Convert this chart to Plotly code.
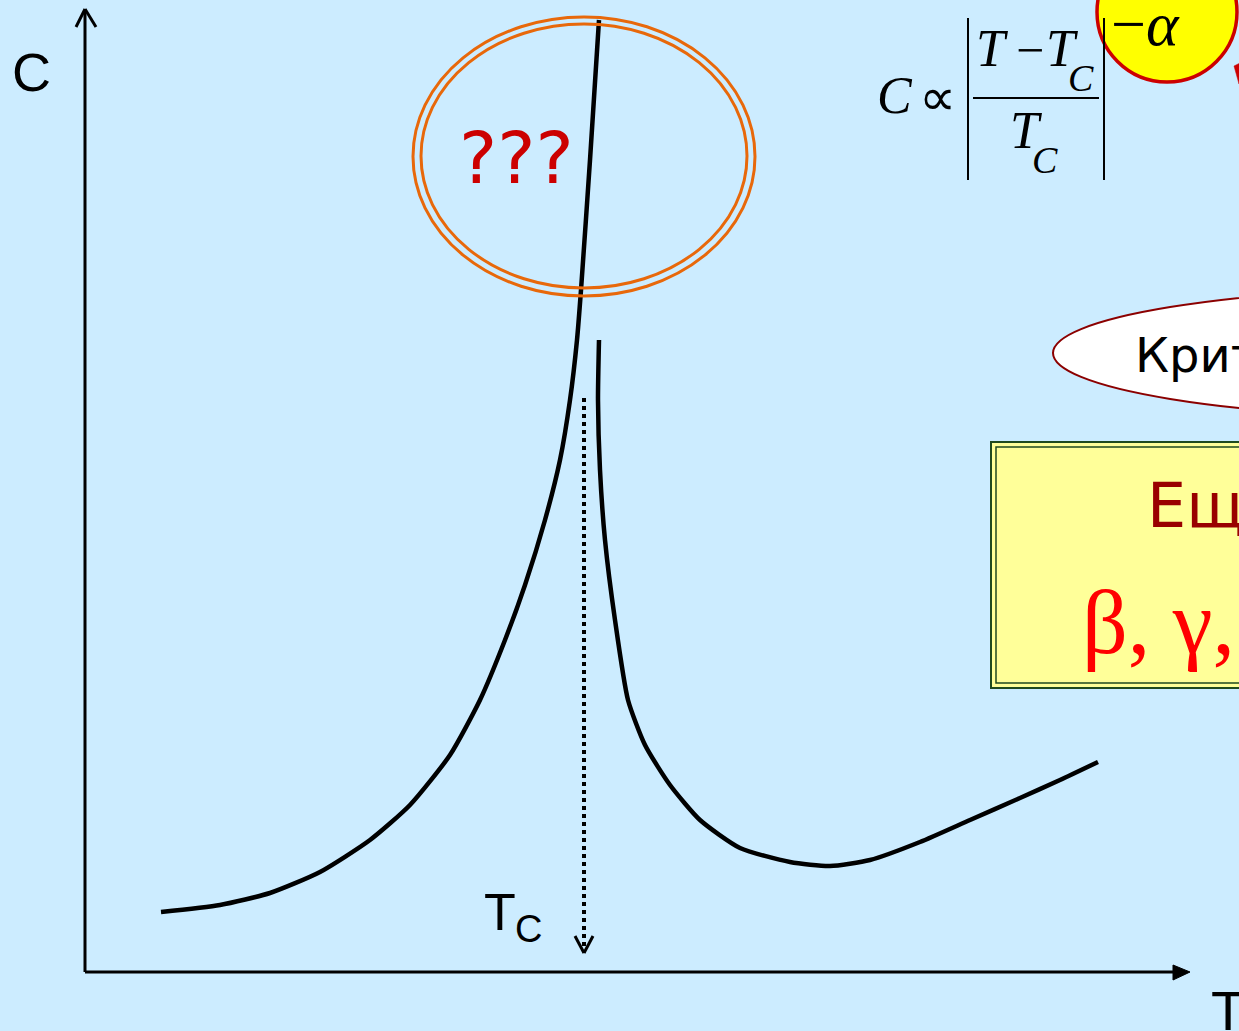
import plotly.graph_objects as go

# ---- data (T, C in arbitrary units; origin at axes crossing) ----
T_below = [76, 135, 185, 235, 285, 325, 365, 395, 420, 440, 460, 475, 485, 492, 496, 505, 514]
C_below = [60, 67, 79, 100, 132, 167, 217, 272, 332, 387, 452, 512, 572, 632, 682, 812, 952]
T_above = [514, 513, 515, 520, 530, 543, 560, 585, 615, 655, 705, 745, 785, 835, 885, 935, 975, 1013]
C_above = [632, 572, 502, 432, 352, 272, 227, 187, 152, 124, 110, 106, 112, 130, 152, 174, 192, 210]
T_c = 499

W, H = 1239, 1031
OX, OY = 85, 972  # pixel of origin


def P(px, py):
    return px - OX, OY - py


BG = "#CCECFF"
fig = go.Figure()
for xs, ys in ((T_below, C_below), (T_above, C_above)):
    fig.add_trace(go.Scatter(x=xs, y=ys, mode="lines",
                             line=dict(color="black", width=4.5, shape="spline", smoothing=0.6),
                             hoverinfo="skip", showlegend=False))

shapes = []


def line(p1, p2, color="black", width=3, dash=None):
    x0, y0 = P(*p1)
    x1, y1 = P(*p2)
    d = dict(type="line", x0=x0, y0=y0, x1=x1, y1=y1, xref="x", yref="y",
             line=dict(color=color, width=width))
    if dash:
        d["line"]["dash"] = dash
    shapes.append(d)


def ellipse(x0, y0, x1, y1, color, width, fill="rgba(0,0,0,0)", layer="above"):
    a, b = P(x0, y0)
    c, d = P(x1, y1)
    shapes.append(dict(type="circle", x0=a, y0=d, x1=c, y1=b, xref="x", yref="y",
                       line=dict(color=color, width=width), fillcolor=fill, layer=layer))


def rect(x0, y0, x1, y1, color, width, fill="rgba(0,0,0,0)"):
    a, b = P(x0, y0)
    c, d = P(x1, y1)
    shapes.append(dict(type="rect", x0=a, y0=d, x1=c, y1=b, xref="x", yref="y",
                       line=dict(color=color, width=width), fillcolor=fill, layer="below"))


# axes
line((OX, OY), (OX, 10), width=3)
line((OX, 9), (76, 27), width=3)
line((OX, 9), (96, 27), width=3)
line((OX, OY), (1178, OY), width=3)
xa, ya = P(1173, 965)
xb, yb = P(1190, 972)
xc, yc = P(1173, 980)
shapes.append(dict(type="path", path=f"M {xa} {ya} L {xb} {yb} L {xc} {yc} Z",
                   xref="x", yref="y", fillcolor="black", line=dict(color="black", width=1)))

# Tc dotted arrow
line((T_c + OX, 398), (T_c + OX, 950), width=4, dash="dot")
line((T_c + OX - 9, 936), (T_c + OX, 953), width=3)
line((T_c + OX + 9, 936), (T_c + OX, 953), width=3)

# orange double ellipse
ellipse(413, 17, 755, 296, "#E8680A", 3)
ellipse(421, 24, 747, 288, "#E8680A", 3)

# white ellipse
ellipse(1053, 288, 1853, 418, "#8B0000", 2, fill="white", layer="below")

# yellow box double border
rect(991, 442, 1400, 688, "#1F4A1F", 2, fill="#FFFF99")
rect(996, 447, 1400, 683, "#1F4A1F", 1.5)

# yellow circle
ellipse(1097, -58, 1237, 82, "#CC0000", 3.5, fill="#FFFF00", layer="below")
# small red mark at right edge
xa, ya = P(1234, 66)
xb, yb = P(1242, 62)
xc, yc = P(1239, 84)
shapes.append(dict(type="path", path=f"M {xa} {ya} L {xb} {yb} L {xc} {yc} Z",
                   xref="x", yref="y", fillcolor="#CC0000", line=dict(color="#CC0000", width=0.5)))

# formula bars and fraction line
line((968, 18), (968, 180), width=2)
line((1104, 18), (1104, 180), width=2)
line((973, 98), (1099, 98), width=2)

annotations = []


def text(px, py, s, size, color="black", family="Liberation Sans", xanchor="center", italic=False):
    x, y = P(px, py)
    if italic:
        s = f"<i>{s}</i>"
    annotations.append(dict(x=x, y=y, xref="x", yref="y", text=s, showarrow=False,
                            xanchor=xanchor, yanchor="middle",
                            font=dict(size=size, color=color, family=family)))


text(31, 72, "C", 54)
text(500, 912, "T", 52)
text(528, 929, "C", 38)
text(1228, 1010, "T", 56)
text(516, 158, "???", 72, color="#CC0000", family="DejaVu Sans")

serif = "Liberation Serif"
text(895, 95, "C", 52, family=serif, italic=True)
text(937, 97, "∝", 52, family=serif)
text(992, 48, "T", 52, family=serif, italic=True)
text(1030, 50, "−", 50, family=serif)
text(1062, 48, "T", 52, family=serif, italic=True)
text(1081, 78, "C", 38, family=serif, italic=True)
text(1026, 130, "T", 52, family=serif, italic=True)
text(1045, 160, "C", 38, family=serif, italic=True)
text(1145, 24, "−<i>α</i>", 62, family=serif)

text(1133, 355, "Критические", 48, family="DejaVu Sans", xanchor="left")
text(1145, 505, "Еще критические индексы:", 62, color="#990000", family="DejaVu Sans", xanchor="left")
text(1080, 622, "β, γ, δ", 90, color="#FF0000", family=serif, xanchor="left")

fig.update_layout(
    width=W, height=H, margin=dict(l=0, r=0, t=0, b=0),
    paper_bgcolor=BG, plot_bgcolor=BG,
    xaxis=dict(range=[-OX, W - OX], visible=False, fixedrange=True),
    yaxis=dict(range=[OY - H, OY], visible=False, fixedrange=True),
    shapes=shapes, annotations=annotations, showlegend=False,
)
fig.write_html("out.html", config={"displayModeBar": False},
               post_script="document.body.style.margin='0';document.body.style.background='" + BG + "';")
